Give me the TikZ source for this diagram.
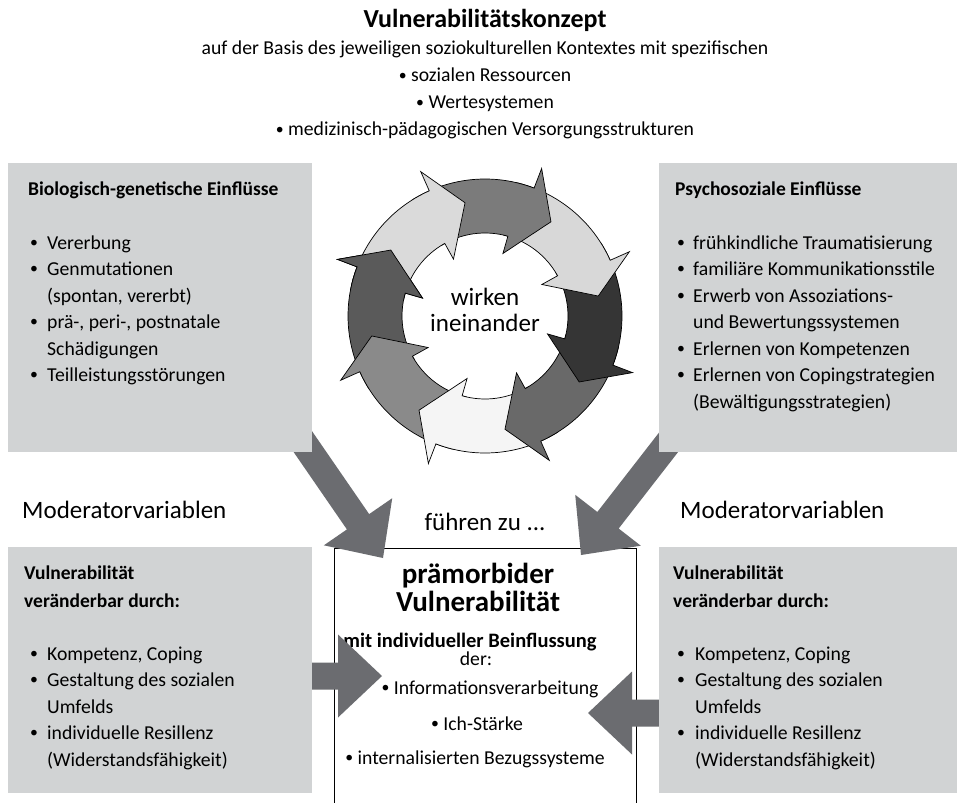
\documentclass[tikz,border=0pt]{standalone}
\usepackage{fontspec}
\usepackage{graphicx}
\setmainfont{Carlito}
\usetikzlibrary{calc}

\definecolor{boxgray}{HTML}{D1D3D4}
\definecolor{arrowgray}{HTML}{6B6C70}
\definecolor{ringA}{HTML}{DADADA}
\definecolor{ringB}{HTML}{7B7B7B}
\definecolor{ringC}{HTML}{D8D8D8}
\definecolor{ringD}{HTML}{353535}
\definecolor{ringE}{HTML}{696969}
\definecolor{ringF}{HTML}{F5F5F5}
\definecolor{ringG}{HTML}{8A8A8A}
\definecolor{ringH}{HTML}{5A5A5A}

% ring geometry
\def\rOut{137}
\def\rIn{83}
\def\rTip{115}
\def\rWo{158}
\def\rWi{65}

% one segment of the circular arrow ring: #1 = tip angle, #2 = fill colour
\newcommand\ringarrow[2]{%
  \filldraw[ringline, fill=#2]
    ({#1+67}:\rOut) arc[start angle={#1+67}, end angle={#1+14}, radius=\rOut]
    -- ({#1+14}:\rWo) -- (#1:\rTip) -- ({#1+19}:\rWi) -- ({#1+19}:\rIn)
    arc[start angle={#1+19}, end angle={#1+67}, radius=\rIn] -- cycle;}

% head of a ring segment only (open outline at the back)
\newcommand\ringhead[2]{%
  \fill[#2]
    ({#1+24}:\rOut) arc[start angle={#1+24}, end angle={#1+14}, radius=\rOut]
    -- ({#1+14}:\rWo) -- (#1:\rTip) -- ({#1+19}:\rWi) -- ({#1+19}:\rIn)
    arc[start angle={#1+19}, end angle={#1+24}, radius=\rIn] -- cycle;
  \draw[ringline]
    ({#1+24}:\rOut) arc[start angle={#1+24}, end angle={#1+14}, radius=\rOut]
    -- ({#1+14}:\rWo) -- (#1:\rTip) -- ({#1+19}:\rWi) -- ({#1+19}:\rIn)
    arc[start angle={#1+19}, end angle={#1+24}, radius=\rIn];}

% broad grey block arrow from #1 (tail) to #2 (tip)
\newcommand\fatarrow[2]{%
  \path (#2) coordinate (fa-t) ($(#2)!44pt!(#1)$) coordinate (fa-b);
  \fill[arrowgray]
    ($(fa-b)!13.5pt!90:(fa-t)$) -- ($(fa-b)!41.5pt!90:(fa-t)$) -- (fa-t)
    -- ($(fa-b)!41.5pt!-90:(fa-t)$) -- ($(fa-b)!13.5pt!-90:(fa-t)$)
    -- ($(#1)!13.5pt!-90:(fa-t)$) -- ($(#1)!13.5pt!90:(fa-t)$) -- cycle;}

% a slightly smaller list bullet
\newcommand\dotb{\raisebox{0.08em}{\scalebox{0.8}{•}}}
\newcommand\lbul{\makebox[18pt][l]{\hspace*{1pt}\dotb}}
\newcommand\rbul{\makebox[17pt][l]{\hspace*{1pt}\dotb}}
\newcommand\sbul{\makebox[19pt][l]{\hspace*{1pt}\dotb}}

\begin{document}
\begin{tikzpicture}[x=1pt, y=-1pt,
  ringline/.style={draw=black, line width=0.7pt, line join=miter},
  graybox/.style={fill=boxgray, draw=none, inner sep=0pt, anchor=north west},
  % multi-line nodes are placed by the baseline of their last line
  body/.style={font=\fontsize{19.7}{26.5}\selectfont, inner sep=0pt, align=left, anchor=base west},
  bodyb/.style={font=\bfseries\fontsize{19.5}{28}\selectfont, inner sep=0pt, align=left, anchor=base west},
  hdr/.style={font=\fontsize{19.7}{24}\selectfont, inner sep=0pt, anchor=base},
  mid/.style={font=\fontsize{19.7}{24}\selectfont, inner sep=0pt, anchor=base},
  big/.style={font=\fontsize{25}{30}\selectfont, inner sep=0pt, anchor=base}]

\useasboundingbox (0,0) rectangle (957,802);
\clip (0,0) rectangle (957,802);
\fill[white] (0,0) rectangle (957,802);

% ---------- heading ----------
\node[anchor=base, inner sep=0pt, font=\bfseries\fontsize{26}{30}\selectfont] (title) at (485,28) {Vulnerabilitätskonzept};
\node[hdr] (basis) at (485,55) {auf der Basis des jeweiligen soziokulturellen Kontextes mit spezifischen};
\node[hdr] (ress) at (485,82) {\dotb\ sozialen Ressourcen};
\node[hdr] (werte) at (485,109) {\dotb\ Wertesystemen};
\node[hdr] (versorg) at (485,136) {\dotb\ medizinisch-pädagogischen Versorgungsstrukturen};

% ---------- circular arrows ----------
\begin{scope}[shift={(485,316)}, yscale=-1]
  \ringarrow{145}{ringH}
  \ringarrow{-170}{ringG}
  \ringarrow{-125}{ringF}
  \ringarrow{-80}{ringE}
  \ringarrow{-35}{ringD}
  \ringarrow{10}{ringC}
  \ringarrow{55}{ringB}
  \ringarrow{100}{ringA}
  \ringhead{145}{ringH}
\end{scope}
\node[big] (wirken) at (485,305) {wirken};
\node[big] (ineinander) at (485,331) {ineinander};

% ---------- centre box ----------
\draw[fill=white, line width=0.8pt] (334,548) rectangle (636,840);
\node (centre) at (485,548) {};
\node[anchor=base, inner sep=0pt, font=\bfseries\fontsize{29}{31}\selectfont] (praem) at (478,583) {prämorbider};
\node[anchor=base, inner sep=0pt, font=\bfseries\fontsize{29}{31}\selectfont] (vuln) at (478,611) {Vulnerabilität};
\node[anchor=base, inner sep=0pt, font=\bfseries\fontsize{20.5}{24}\selectfont] (indiv) at (470,647) {mit individueller Beinflussung};
\node[mid] (der) at (476,665) {der:};
\node[mid] (info) at (490,694) {\dotb\ Informationsverarbeitung};
\node[mid] (ich) at (477,730) {\dotb\ Ich-Stärke};
\node[mid] (bezug) at (475,764) {\dotb\ internalisierten Bezugssysteme};

\node[big] (fuehren) at (485,530) {führen zu ...};
\node[big, anchor=base west] (modL) at (22,518) {Moderatorvariablen};
\node[big, anchor=base west] (modR) at (680,518) {Moderatorvariablen};

% ---------- block arrows ----------
\coordinate (la-s) at (290,423);  \coordinate (la-t) at (383,558);
\coordinate (ra-s) at (682,425);  \coordinate (ra-t) at (581,555);
\coordinate (lh-s) at (280,676);  \coordinate (lh-t) at (382,676);
\coordinate (rh-s) at (690,713);  \coordinate (rh-t) at (588,713);
\fatarrow{la-s}{la-t}
\fatarrow{ra-s}{ra-t}
\fatarrow{lh-s}{lh-t}
\fatarrow{rh-s}{rh-t}

% ---------- grey boxes ----------
\node[graybox, minimum width=304pt, minimum height=289pt] (bio) at (8,163) {};
\node[graybox, minimum width=300pt, minimum height=289pt] (psy) at (659,163) {};
\node[graybox, minimum width=304pt, minimum height=246pt] (modboxL) at (8,547) {};
\node[graybox, minimum width=300pt, minimum height=246pt] (modboxR) at (659,547) {};

\node[bodyb] (bioT) at (28,196) {Biologisch-genetische Einflüsse};
\node[body] (bioL) at (29,381.5) {\lbul Vererbung\\
  \lbul Genmutationen\\
  \hspace*{18pt}(spontan, vererbt)\\
  \lbul prä-, peri-, postnatale\\
  \hspace*{18pt}Schädigungen\\
  \lbul Teilleistungsstörungen};

\node[bodyb] (psyT) at (675,196) {Psychosoziale Einflüsse};
\node[body] (psyL) at (676,408) {\rbul frühkindliche Traumatisierung\\
  \rbul familiäre Kommunikationsstile\\
  \rbul Erwerb von Assoziations-\\
  \hspace*{17pt}und Bewertungssystemen\\
  \rbul Erlernen von Kompetenzen\\
  \rbul Erlernen von Copingstrategien\\
  \hspace*{17pt}(Bewältigungsstrategien)};

\node[bodyb] (modTL) at (24,607) {Vulnerabilität\\veränderbar durch:};
\node[body] (modLL) at (29,766) {\lbul Kompetenz, Coping\\
  \lbul Gestaltung des sozialen\\
  \hspace*{18pt}Umfelds\\
  \lbul individuelle Resillenz\\
  \hspace*{18pt}(Widerstandsfähigkeit)};

\node[bodyb] (modTR) at (673,607) {Vulnerabilität\\veränderbar durch:};
\node[body] (modRL) at (676,766) {\sbul Kompetenz, Coping\\
  \sbul Gestaltung des sozialen\\
  \hspace*{19pt}Umfelds\\
  \sbul individuelle Resillenz\\
  \hspace*{19pt}(Widerstandsfähigkeit)};
\end{tikzpicture}
\end{document}
